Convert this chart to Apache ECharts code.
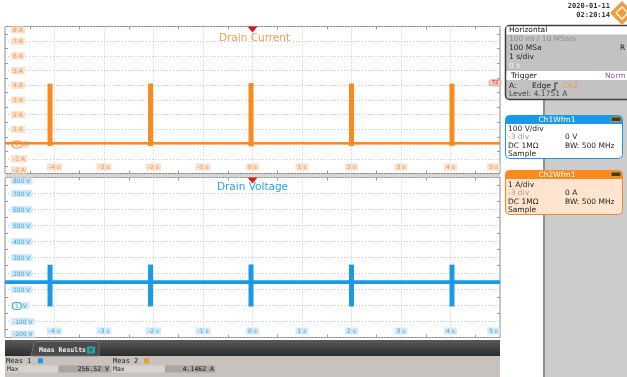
<!DOCTYPE html>
<html><head><meta charset="utf-8">
<script src="https://cdn.jsdelivr.net/npm/echarts@6/dist/echarts.min.js"></script>
<style>html,body{margin:0;padding:0;background:#fff}#c{width:627px;height:377px}</style>
</head><body><div id="c"></div><script>
// ---- data ----
const timeRange = [-5, 5];            // s
const currentRange = [-2, 8];         // A
const voltageRange = [-200, 800];     // V
const spikeTimes = [-4.09, -2.06, -0.03, 2.00, 4.03];
const currentPeaks = [4.11, 4.12, 4.15, 4.12, 4.11];
const currentLows = [-0.12, -0.13, -0.15, -0.13, -0.12];
const currentBaseline = 0.05;
const voltagePeaks = [255.0, 255.8, 256.5, 255.5, 255.2];
const voltageLows = [-6, -6, -6, -6, -6];
const voltageBaseline = 146;
const triggerTime = 0;
const triggerLevel = 4.1751;
const meas1Max = '256.52 V';
const meas2Max = '4.1462 A';

const ORANGE = '#fa8a1e', BLUE = '#1a9ae6';
const chart = echarts.init(document.getElementById('c'), null, {renderer:'canvas'});

function xAxes(grid, fg, bg){
  return [{
    gridIndex: grid, type:'value', min: timeRange[0], max: timeRange[1], interval: 1, position:'bottom',
    axisLine:{show:false, onZero:false}, axisTick:{show:false, inside:true},
    minorTick:{show:true, splitNumber:2, length:3, lineStyle:{color:'#999'}},
    splitLine:{show:true, lineStyle:{color:'#c2c2c2', type:[1,2]}},
    axisLabel:{inside:true, margin:3, fontSize:6, fontFamily:'DejaVu Sans', color:fg, backgroundColor:bg, padding:[1,2,0,2],
      alignMaxLabel:'right',
      formatter: v => v === timeRange[0] ? '' : v + ' s'}
  },{
    gridIndex: grid, type:'value', min: timeRange[0], max: timeRange[1], interval: 1, position:'top',
    axisLine:{show:false, onZero:false}, axisTick:{show:false, inside:true}, axisLabel:{show:false}, splitLine:{show:false},
    minorTick:{show:true, splitNumber:2, length:3, lineStyle:{color:'#999'}}
  }];
}
function yAxes(grid, range, step, unit, ch, fg, bg){
  return [{
    gridIndex: grid, type:'value', min: range[0], max: range[1], interval: step, position:'left',
    axisLine:{show:false, onZero:false}, axisTick:{show:false, inside:true},
    minorTick:{show:true, splitNumber:2, length:3, lineStyle:{color:'#999'}},
    splitLine:{show:true, lineStyle:{color:'#c2c2c2', type:[1,2]}},
    axisLabel:{inside:true, margin:6, fontSize:6, fontFamily:'DejaVu Sans', color:fg, backgroundColor:bg, padding:[1,2,0,2],
      verticalAlignMaxLabel:'top', verticalAlignMinLabel:'bottom',
      formatter: v => v === 0 ? '{m|' + ch + '}{u| ' + unit + '}' : v + ' ' + unit,
      rich:{m:{fontSize:6, color:fg, borderColor:fg, borderWidth:1, borderRadius:3, padding:[0,2], backgroundColor:'#fff'},
            u:{fontSize:6, color:fg}}}
  },{
    gridIndex: grid, type:'value', min: range[0], max: range[1], interval: step, position:'right',
    axisLine:{show:false, onZero:false}, axisTick:{show:false, inside:true}, axisLabel:{show:false}, splitLine:{show:false},
    minorTick:{show:true, splitNumber:2, length:3, lineStyle:{color:'#999'}}
  }];
}

const series = [];
series.push({type:'line', name:'Drain Current', xAxisIndex:0, yAxisIndex:0, symbol:'none', silent:true, z:3,
  data:[[timeRange[0], currentBaseline],[timeRange[1], currentBaseline]], lineStyle:{color:ORANGE, width:2.5},
  markPoint:{silent:true, data:[
    {coord:[triggerTime, currentRange[1]], symbol:'triangle', symbolRotate:180, symbolSize:[10,6], symbolOffset:[0,3],
     itemStyle:{color:'#e0161b'}, label:{show:false}},
    {coord:[timeRange[1], triggerLevel], symbol:'roundRect', symbolSize:[12,6], symbolOffset:[-5,0],
     itemStyle:{color:'#f6c9c9', borderColor:'#e07070', borderWidth:0.5},
     label:{show:true, formatter:'T2', fontSize:5, color:'#d02020', position:'inside'}}
  ]}});
spikeTimes.forEach((t,i)=>series.push({type:'line', xAxisIndex:0, yAxisIndex:0, symbol:'none', silent:true, z:4,
  data:[[t, currentLows[i]],[t, currentPeaks[i]]], lineStyle:{color:ORANGE, width:5, cap:'butt'}}));
series.push({type:'line', name:'Drain Voltage', xAxisIndex:2, yAxisIndex:2, symbol:'none', silent:true, z:3,
  data:[[timeRange[0], voltageBaseline],[timeRange[1], voltageBaseline]], lineStyle:{color:BLUE, width:3.8},
  markPoint:{silent:true, data:[
    {coord:[triggerTime, voltageRange[1]], symbol:'triangle', symbolRotate:180, symbolSize:[10,6], symbolOffset:[0,3],
     itemStyle:{color:'#e0161b'}, label:{show:false}}
  ]}});
spikeTimes.forEach((t,i)=>series.push({type:'line', xAxisIndex:2, yAxisIndex:2, symbol:'none', silent:true, z:4,
  data:[[t, voltageLows[i]],[t, voltagePeaks[i]]], lineStyle:{color:BLUE, width:5, cap:'butt'}}));

const F = 'DejaVu Sans', M = 'DejaVu Sans Mono';
function T(x,y,s,o){ o=o||{}; return {type:'text', x:x, y:y, z:o.z||20, silent:true,
  style:{text:s, fill:o.c||'#1e1e1e', font:(o.w||'normal')+' '+(o.s||7.5)+'px "'+(o.f||F)+'"',
  textAlign:o.a||'left', textVerticalAlign:'middle'}}; }
function R(x,y,w,h,fill,o){ o=o||{}; return {type:'rect', z:o.z||10, silent:true, shape:{x:x,y:y,width:w,height:h,r:o.r||0},
  style:{fill:fill, stroke:o.stroke||null, lineWidth:o.lw||0}}; }

const graphics = [
  // titles
  T(254.5, 38.5, 'Drain Current', {c:'#f59d4c', s:10.5, a:'center', z:30}),
  T(252.5, 187.5, 'Drain Voltage', {c:'#2aa0ea', s:10.5, a:'center', z:30}),
  // separator between panels
  R(5, 174, 495, 3.3, '#d6d6d6', {z:1}),
  // right panel
  R(545, 100, 82, 277, '#cccccc', {z:2}),
  R(543, 100, 2, 277, '#8e8e8e', {z:2}),
  // date & logo
  T(610, 6.5, '2020-01-11', {f:M, w:'bold', s:7, a:'right', c:'#333'}),
  T(610, 15.5, '02:20:14', {f:M, w:'bold', s:7, a:'right', c:'#333'}),
  {type:'polygon', z:20, silent:true, shape:{points:[[622,1],[634,13],[622,25],[610,13]]}, style:{fill:'#f39a3a'}},
  {type:'polyline', z:21, silent:true, shape:{points:[[616,13],[622,7],[628,13],[622,19],[616,13]]}, style:{stroke:'#fff', lineWidth:1.4, fill:null}},
  // Horizontal / Trigger box
  R(505.5, 25.5, 130, 74, '#c2c2c2', {r:4, stroke:'#3f3f3f', lw:1.5}),
  R(506.5, 26.5, 125, 8, '#ffffff', {z:11}),
  R(506.5, 71, 125, 9, '#ffffff', {z:11}),
  T(509, 30.5, 'Horizontal', {c:'#111'}),
  T(509, 39.5, '100 ns / 10 MSa/s', {c:'#8d8d8d'}),
  T(509, 48.3, '100 MSa', {c:'#222'}),
  T(620, 48.3, 'R', {c:'#222'}),
  T(509, 57.3, '1 s/div', {c:'#222'}),
  T(509, 65.7, '0 s', {c:'#f2f2f2'}),
  T(511, 75.8, 'Trigger', {c:'#111'}),
  T(605, 75.8, 'Norm', {c:'#9a4fb7'}),
  T(509, 86, 'A:', {c:'#222'}),
  T(532, 86, 'Edge', {c:'#222'}),
  {type:'polyline', z:21, silent:true, shape:{points:[[552,90],[555,90],[555,83],[558,83]]}, style:{stroke:'#222', lineWidth:0.9, fill:null}},
  T(563, 86, 'Ch2', {c:'#f5962e'}),
  T(509, 94.3, 'Level: 4.1751 A', {c:'#444'}),
  // Ch1 box
  R(505.5, 115.5, 117, 43, '#ffffff', {r:4, stroke:BLUE, lw:1}),
  R(505.5, 115.5, 117, 8.5, BLUE, {r:[4,4,0,0], z:11}),
  T(557, 119.7, 'Ch1Wfm1', {c:'#fff', a:'center'}),
  R(611, 117, 10, 4.5, '#4a3a1c', {r:1.5, stroke:'#e2a63a', lw:0.8, z:12}),
  T(508, 129, '100 V/div'),
  T(508, 137.3, '-3 div', {c:'#9a9a9a'}),
  T(565, 137.3, '0 V'),
  T(508, 145.7, 'DC 1MΩ'),
  T(565, 145.7, 'BW: 500 MHz'),
  T(508, 154.2, 'Sample'),
  // Ch2 box
  R(505.5, 170.5, 117, 44, '#fde4cf', {r:4, stroke:ORANGE, lw:1}),
  R(505.5, 170.5, 117, 8.5, ORANGE, {r:[4,4,0,0], z:11}),
  T(557, 174.7, 'Ch2Wfm1', {c:'#fff', a:'center'}),
  R(611, 172, 10, 4.5, '#4a3a1c', {r:1.5, stroke:'#e2a63a', lw:0.8, z:12}),
  T(508, 185, '1 A/div'),
  T(508, 192.8, '-3 div', {c:'#b0a090'}),
  T(565, 192.8, '0 A'),
  T(508, 201.6, 'DC 1MΩ'),
  T(565, 201.6, 'BW: 500 MHz'),
  T(508, 210, 'Sample'),
  // Meas results bar
  {type:'rect', z:10, silent:true, shape:{x:5, y:340, width:495, height:16},
    style:{fill:new echarts.graphic.LinearGradient(0,0,0,1,[{offset:0,color:'#5a5a5a'},{offset:1,color:'#2c2c2c'}])}},
  {type:'polygon', z:11, silent:true, shape:{points:[[31,356],[34,343],[36,341.5],[97,341.5],[99,343],[99,356]]},
    style:{fill:'#4b4b4b', stroke:'#7a7a7a', lineWidth:0.8}},
  T(39, 350.5, 'Meas Results', {c:'#f4f4f4', f:M, w:'bold', s:6.5}),
  R(87, 346.5, 8, 7, '#1fa8a8', {z:12}),
  T(91, 350.2, '✕', {c:'#173c3c', s:6, a:'center'}),
  R(5, 356, 495, 21, '#c7c2bd', {z:10}),
  T(6, 360.7, 'Meas 1', {f:M, s:7}),
  R(38, 358.3, 5, 5, BLUE, {z:12}),
  T(113, 360.7, 'Meas 2', {f:M, s:7}),
  R(144, 358.3, 5, 5, '#f5962e', {z:12}),
  R(6, 365.5, 52, 7, '#d8d3ce', {z:11}),
  R(58.5, 365.5, 52, 7, '#a9a5a0', {z:11}),
  R(112, 365.5, 52.5, 7, '#d8d3ce', {z:11}),
  R(165, 365.5, 50, 7, '#a9a5a0', {z:11}),
  T(7, 369.2, 'Max', {f:M, s:6.5}),
  T(109, 369.2, meas1Max, {f:M, s:6.5, a:'right'}),
  T(113, 369.2, 'Max', {f:M, s:6.5}),
  T(214, 369.2, meas2Max, {f:M, s:6.5, a:'right'})
];

chart.setOption({
  animation:false,
  backgroundColor:'#ffffff',
  grid:[
    {left:5, top:26.5, width:495, height:147, show:true, borderColor:'#8a8a8a', borderWidth:1, backgroundColor:'#fff'},
    {left:5, top:177.5, width:495, height:160, show:true, borderColor:'#8a8a8a', borderWidth:1, backgroundColor:'#fff'}
  ],
  xAxis:[...xAxes(0,'#f0964a','#f8e0cb'), ...xAxes(1,'#3aa2e8','#d4e9f8')],
  yAxis:[...yAxes(0,currentRange,1,'A','2','#f0964a','#f8e0cb'), ...yAxes(1,voltageRange,100,'V','1','#3aa2e8','#d4e9f8')],
  series: series,
  graphic: graphics
});
</script></body></html>
